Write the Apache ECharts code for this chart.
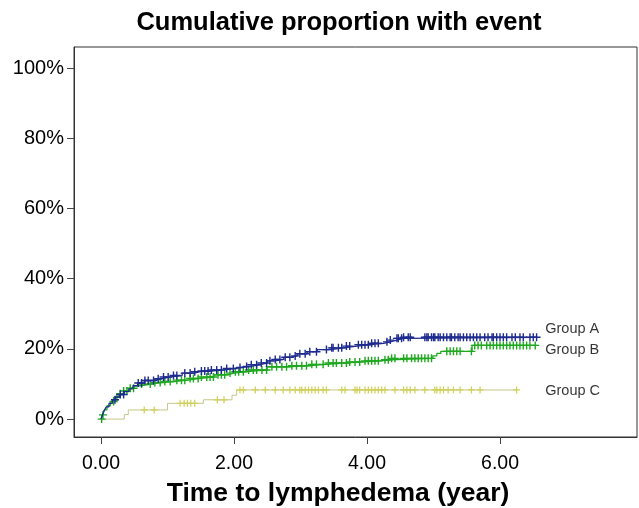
<!DOCTYPE html>
<html>
<head>
<meta charset="utf-8">
<script src="https://cdn.jsdelivr.net/npm/echarts@6/dist/echarts.min.js"></script>
<style>
html,body{margin:0;padding:0;background:#fff;}
#chart{width:639px;height:508px;}
</style>
</head>
<body>
<div id="chart"></div>
<script>
// ---- Data (time in years, cumulative % with event) ----
const groupNames = ['Group A', 'Group B', 'Group C'];
const xTicks = [0, 2, 4, 6];
const yTicks = [0, 20, 40, 60, 80, 100];

// step curves: [time, cumulative %]
const stepsA = [[0,0],[0.02,1.0],[0.05,2.5],[0.08,3.5],[0.12,4.5],[0.17,5.5],[0.22,6.3],[0.28,7.0],[0.35,7.8],[0.42,8.6],[0.48,9.5],[0.55,10.3],[0.65,11.0],[0.8,11.5],[0.92,12.0],[1.05,12.4],[1.22,13.1],[1.4,13.5],[1.49,13.7],[1.65,14.0],[1.85,14.4],[2.0,14.7],[2.1,15.0],[2.25,15.5],[2.4,16.0],[2.5,16.6],[2.62,17.0],[2.75,17.6],[2.85,18.0],[2.95,18.6],[3.1,19.2],[3.25,19.8],[3.45,20.3],[3.65,20.8],[3.85,21.2],[4.05,21.6],[4.25,22.0],[4.35,22.5],[4.45,23.0],[4.55,23.3],[6.56,23.3]];
const stepsB = [[0,0],[0.02,1.2],[0.05,2.6],[0.09,3.8],[0.14,5.0],[0.2,6.2],[0.27,7.2],[0.34,8.0],[0.42,8.8],[0.5,9.5],[0.6,10.0],[0.75,10.4],[0.9,10.7],[1.1,11.1],[1.3,11.6],[1.5,12.0],[1.7,12.6],[1.9,13.1],[2.0,13.5],[2.2,14.0],[2.5,14.9],[2.8,15.2],[3.1,15.6],[3.4,16.0],[3.7,16.3],[3.95,16.6],[4.2,16.9],[4.35,17.3],[4.99,18.0],[5.05,18.7],[5.11,19.3],[5.58,21.0],[6.56,21.0]];
const stepsC = [[0,0],[0.35,1.3],[0.41,2.6],[1.0,4.5],[1.54,5.5],[1.97,6.8],[2.04,8.3],[6.25,8.3]];

// censoring times
const censorA = [0.21,0.29,0.34,0.56,0.61,0.66,0.71,0.79,0.86,0.94,1.01,1.09,1.14,1.26,1.34,1.41,1.51,1.56,1.61,1.66,1.74,1.81,1.89,1.99,2.09,2.19,2.26,2.34,2.41,2.49,2.54,2.62,2.69,2.77,2.84,2.92,2.99,3.07,3.14,3.24,3.39,3.47,3.49,3.57,3.62,3.69,3.74,3.87,3.92,3.97,4.02,4.07,4.12,4.17,4.30,4.35,4.45,4.47,4.52,4.55,4.62,4.65,4.87,4.90,4.92,4.97,5.0,5.02,5.07,5.10,5.15,5.20,5.25,5.27,5.32,5.37,5.40,5.45,5.50,5.55,5.60,5.65,5.70,5.77,5.82,5.88,5.90,5.95,6.0,6.05,6.10,6.18,6.23,6.30,6.35,6.45,6.50,6.55];
const censorB = [0.01,0.03,0.19,0.24,0.29,0.34,0.39,0.44,0.49,0.61,0.74,0.81,0.89,0.96,1.04,1.14,1.21,1.26,1.34,1.39,1.46,1.51,1.59,1.64,1.69,1.76,1.81,1.86,1.94,2.02,2.07,2.14,2.22,2.29,2.34,2.42,2.49,2.57,2.64,2.72,2.79,2.87,2.94,3.02,3.09,3.17,3.24,3.34,3.42,3.49,3.54,3.62,3.69,3.74,3.82,3.89,3.97,4.02,4.07,4.12,4.17,4.27,4.32,4.37,4.42,4.55,4.60,4.67,4.72,4.77,4.82,4.87,4.92,4.97,5.20,5.25,5.30,5.35,5.40,5.57,5.62,5.67,5.72,5.80,5.85,5.90,5.95,6.0,6.05,6.10,6.15,6.20,6.25,6.30,6.35,6.40,6.45,6.53];
const censorC = [0.65,0.80,1.19,1.25,1.30,1.35,1.41,1.75,1.85,2.09,2.14,2.32,2.47,2.62,2.74,2.84,2.92,2.99,3.02,3.07,3.12,3.17,3.22,3.27,3.34,3.39,3.62,3.67,3.82,3.85,3.89,3.97,4.02,4.07,4.12,4.17,4.22,4.27,4.42,4.55,4.60,4.65,4.72,4.87,5.02,5.05,5.10,5.15,5.22,5.30,5.40,5.57,5.70,6.25];

const colors = ['#1e2b8e', '#1fa81f', '#c6c68a'];
const markColors = ['#1e2b8e', '#1fa81f', '#d0d05a'];
const FONT = '"Liberation Sans", Arial, sans-serif';

// value of step curve at time t
function levelAt(steps, t) {
  let v = 0;
  for (const [st, sv] of steps) { if (st <= t) v = sv; else break; }
  return v;
}

const stepSets = [stepsA, stepsB, stepsC];
const censorSets = [censorA, censorB, censorC];
const plus = 'path://M3.3,0H4.7V8H3.3Z M0,3.3H8V4.7H0Z';

const series = [];
stepSets.forEach((s, i) => {
  series.push({
    name: groupNames[i], type: 'line', step: 'end', data: s,
    symbol: 'none', lineStyle: { color: colors[i], width: i === 2 ? 1 : 1.3 },
    silent: true, animation: false, z: 3 - i
  });
});
censorSets.forEach((c, i) => {
  series.push({
    name: groupNames[i] + ' censored', type: 'scatter',
    data: c.map(t => [t, levelAt(stepSets[i], t)]),
    symbol: plus, symbolSize: i === 2 ? [7, 7] : [8, 8],
    itemStyle: { color: markColors[i], opacity: 1 },
    silent: true, animation: false, z: 3 - i
  });
});

// group labels at the right end of each curve
const labelY = [25.7, 19.7, 8.1];
series.push({
  type: 'scatter', symbolSize: 0, silent: true, animation: false,
  data: groupNames.map((n, i) => ({ value: [6.68, labelY[i]], name: n })),
  label: { show: true, position: 'right', distance: 0, formatter: p => p.name,
           color: '#000', fontSize: 14.5, fontFamily: FONT }
});

const chart = echarts.init(document.getElementById('chart'), null, { renderer: 'canvas' });
chart.setOption({
  animation: false,
  backgroundColor: '#fff',
  grid: { left: 74, right: 2, top: 47, bottom: 71, show: true, borderColor: '#333', borderWidth: 1, backgroundColor: 'transparent' },
  xAxis: {
    type: 'value', min: -0.406, max: 8.06,
    axisLine: { show: true, onZero: false, lineStyle: { color: '#333' } },
    axisTick: { show: true, length: 7, inside: false, customValues: xTicks, lineStyle: { color: '#444' } },
    axisLabel: { customValues: xTicks, formatter: v => v.toFixed(2), margin: 17, fontSize: 19.5, color: '#000', fontFamily: FONT },
    splitLine: { show: false }
  },
  yAxis: {
    type: 'value', min: -5.1, max: 106,
    axisLine: { show: true, onZero: false, lineStyle: { color: '#333' } },
    axisTick: { show: true, length: 7, inside: false, customValues: yTicks, lineStyle: { color: '#444' } },
    axisLabel: { customValues: yTicks, formatter: v => v + '%', margin: 10, fontSize: 20, color: '#000', fontFamily: FONT },
    splitLine: { show: false }
  },
  graphic: [
    { type: 'text', style: { x: 339, y: 23, text: 'Cumulative proportion with event', textAlign: 'center', textVerticalAlign: 'middle',
      font: 'bold 25.5px ' + FONT, fill: '#000' } },
    { type: 'text', style: { x: 338, y: 494, text: 'Time to lymphedema (year)', textAlign: 'center', textVerticalAlign: 'middle',
      font: 'bold 26.5px ' + FONT, fill: '#000' } }
  ],
  series: series
});
</script>
</body>
</html>
